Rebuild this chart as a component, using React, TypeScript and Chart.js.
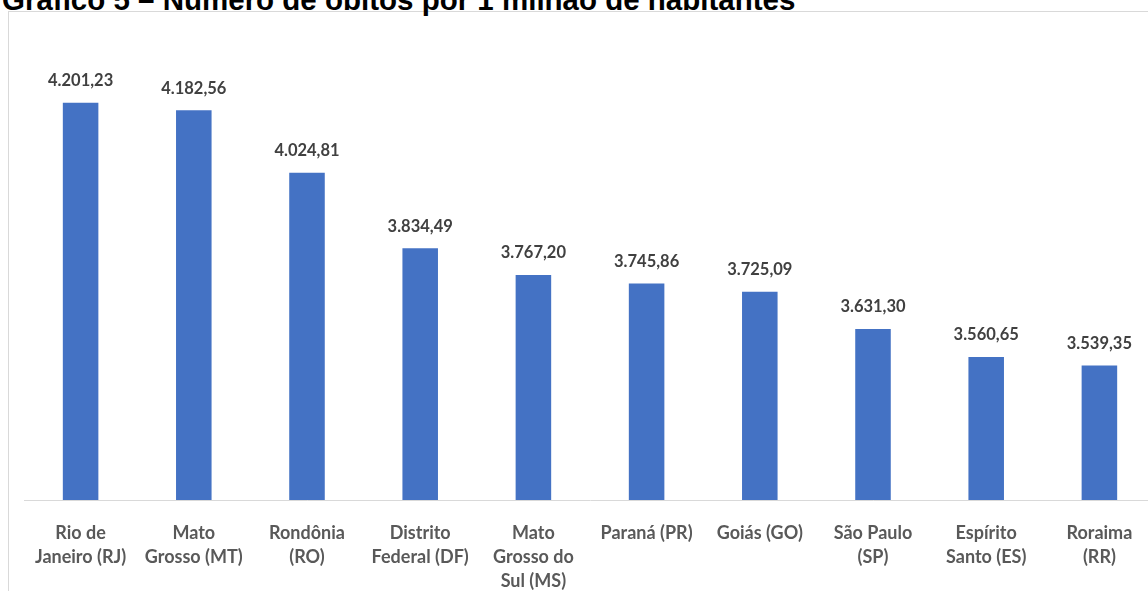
import React, { useEffect, useRef } from "react";
import { Chart, registerables } from "chart.js";

Chart.register(...registerables);

const categories: (string | string[])[] = [
  ["Rio de", "Janeiro (RJ)"],
  ["Mato", "Grosso (MT)"],
  ["Rondônia", "(RO)"],
  ["Distrito", "Federal (DF)"],
  ["Mato", "Grosso do", "Sul (MS)"],
  "Paraná (PR)",
  "Goiás (GO)",
  ["São Paulo", "(SP)"],
  ["Espírito", "Santo (ES)"],
  ["Roraima", "(RR)"],
];

const deathsPerMillion: number[] = [
  4201.23, 4182.56, 4024.81, 3834.49, 3767.2, 3745.86, 3725.09, 3631.3, 3560.65, 3539.35,
];

const yMin = 3200;
const yMax = 4400;

const TITLE = "Gráfico 5 – Número de óbitos por 1 milhão de habitantes";

function formatBR(v: number): string {
  const fixed = v.toFixed(2);
  const [intPart, dec] = fixed.split(".");
  const withDots = intPart.replace(/\B(?=(\d{3})+(?!\d))/g, ".");
  return withDots + "," + dec;
}

const labelFont = "'Lato', 'Open Sans', sans-serif";

const dataLabelPlugin = {
  id: "dataLabels",
  afterDatasetsDraw(chart: any) {
    const ctx = chart.ctx;
    const meta = chart.getDatasetMeta(0);
    ctx.save();
    ctx.font = `bold 16.5px ${labelFont}`;
    ctx.fillStyle = "#404040";
    ctx.textAlign = "center";
    ctx.textBaseline = "middle";
    meta.data.forEach((bar: any, i: number) => {
      ctx.fillText(formatBR(deathsPerMillion[i]), bar.x, bar.y - 22);
    });
    ctx.restore();
  },
};

export default function App() {
  const canvasRef = useRef<HTMLCanvasElement | null>(null);

  useEffect(() => {
    if (!canvasRef.current) return;
    const chart = new Chart(canvasRef.current, {
      type: "bar",
      data: {
        labels: categories,
        datasets: [
          {
            data: deathsPerMillion,
            backgroundColor: "#4472C4",
            borderWidth: 0,
            barPercentage: 0.314,
            categoryPercentage: 1,
          },
        ],
      },
      options: {
        animation: false,
        responsive: false,
        devicePixelRatio: 1,
        layout: { padding: { left: 24, right: 44, top: 24, bottom: 0 } },
        plugins: {
          legend: { display: false },
          tooltip: { enabled: false },
          title: { display: false },
        },
        scales: {
          y: { display: false, min: yMin, max: yMax },
          x: {
            grid: { display: false },
            border: { display: true, color: "#d9d9d9", width: 1 },
            ticks: {
              color: "#595959",
              maxRotation: 0,
              autoSkip: false,
              padding: 13,
              font: { family: labelFont, size: 18, weight: "bold", lineHeight: 24 / 18 },
            },
            afterFit(scale: any) {
              scale.height = 91;
            },
          },
        },
      },
      plugins: [dataLabelPlugin],
    });
    return () => chart.destroy();
  }, []);

  return (
    <div
      style={{
        position: "fixed",
        left: 0,
        top: 0,
        width: 1148,
        height: 591,
        overflow: "hidden",
        background: "#ffffff",
      }}
    >
      <div
        style={{
          position: "absolute",
          left: 8,
          top: 11,
          width: 1200,
          height: 640,
          borderLeft: "1px solid #d9d9d9",
          borderTop: "1px solid #d9d9d9",
        }}
      />
      <div
        style={{
          position: "absolute",
          left: 2,
          top: -15,
          fontFamily: "'Liberation Sans', Arial, sans-serif",
          fontWeight: "bold",
          fontSize: 29.5,
          lineHeight: "29.5px",
          color: "#000000",
          whiteSpace: "nowrap",
        }}
      >
        {TITLE}
      </div>
      <canvas
        ref={canvasRef}
        width={1200}
        height={591}
        style={{ position: "absolute", left: 0, top: 0, width: 1200, height: 591 }}
      />
    </div>
  );
}
